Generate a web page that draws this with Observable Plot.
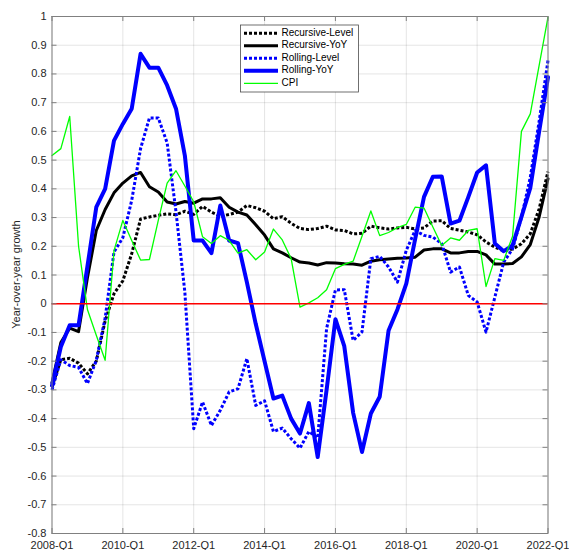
<!DOCTYPE html>
<html><head><meta charset="utf-8">
<script src="https://cdn.jsdelivr.net/npm/d3@7"></script>
<script src="https://cdn.jsdelivr.net/npm/@observablehq/plot@0.6"></script>
<style>
body{margin:0;background:#fff;}
#chart{position:relative;width:569px;height:550px;}
#chart svg{font-family:"Liberation Sans",Arial,Helvetica,sans-serif;}
</style></head><body><div id="chart"></div>
<script>
const quarters = [
"2008-Q1","2008-Q2","2008-Q3","2008-Q4","2009-Q1","2009-Q2","2009-Q3","2009-Q4",
"2010-Q1","2010-Q2","2010-Q3","2010-Q4","2011-Q1","2011-Q2","2011-Q3","2011-Q4",
"2012-Q1","2012-Q2","2012-Q3","2012-Q4","2013-Q1","2013-Q2","2013-Q3","2013-Q4",
"2014-Q1","2014-Q2","2014-Q3","2014-Q4","2015-Q1","2015-Q2","2015-Q3","2015-Q4",
"2016-Q1","2016-Q2","2016-Q3","2016-Q4","2017-Q1","2017-Q2","2017-Q3","2017-Q4",
"2018-Q1","2018-Q2","2018-Q3","2018-Q4","2019-Q1","2019-Q2","2019-Q3","2019-Q4",
"2020-Q1","2020-Q2","2020-Q3","2020-Q4","2021-Q1","2021-Q2","2021-Q3","2021-Q4",
"2022-Q1"];
const xTicks = ["2008-Q1","2010-Q1","2012-Q1","2014-Q1","2016-Q1","2018-Q1","2020-Q1","2022-Q1"];
const yTicks = [-0.8,-0.7,-0.6,-0.5,-0.4,-0.3,-0.2,-0.1,0,0.1,0.2,0.3,0.4,0.5,0.6,0.7,0.8,0.9,1];
const yLabel = "Year-over-year growth";

const recursiveLevel = [
-0.29,-0.195,-0.19,-0.207,-0.244,-0.2,-0.06,0.035,0.08,0.174,0.295,0.302,0.308,0.313,0.31,0.322,
0.311,0.339,0.319,0.304,0.311,0.319,0.342,0.334,0.322,0.296,0.303,0.28,0.262,0.258,0.262,0.27,
0.257,0.255,0.243,0.245,0.27,0.264,0.26,0.264,0.266,0.26,0.264,0.288,0.289,0.262,0.256,0.25,
0.24,0.215,0.197,0.184,0.19,0.209,0.244,0.33,0.46];
const recursiveYoY = [
-0.275,-0.135,-0.085,-0.097,0.09,0.255,0.328,0.386,0.42,0.445,0.457,0.407,0.389,0.354,0.347,0.356,
0.35,0.365,0.365,0.369,0.336,0.319,0.309,0.275,0.239,0.191,0.177,0.16,0.145,0.142,0.135,0.143,
0.142,0.139,0.138,0.134,0.148,0.153,0.156,0.158,0.159,0.162,0.187,0.191,0.191,0.177,0.177,0.182,
0.182,0.17,0.138,0.138,0.14,0.163,0.206,0.302,0.435];
const rollingLevel = [
-0.3,-0.195,-0.215,-0.222,-0.278,-0.197,-0.05,0.18,0.23,0.36,0.54,0.647,0.647,0.56,0.32,0.04,
-0.435,-0.342,-0.424,-0.371,-0.307,-0.296,-0.191,-0.354,-0.338,-0.445,-0.433,-0.47,-0.503,-0.445,-0.467,-0.087,
0.048,0.049,-0.128,-0.098,0.157,0.165,0.128,0.075,0.186,0.255,0.238,0.232,0.209,0.11,0.128,0.029,
0.006,-0.099,0.023,0.145,0.191,0.3,0.44,0.635,0.847];
const rollingYoY = [
-0.285,-0.15,-0.075,-0.075,0.13,0.336,0.40,0.568,0.626,0.679,0.87,0.822,0.822,0.76,0.679,0.516,
0.22,0.22,0.176,0.342,0.22,0.211,0.075,-0.07,-0.2,-0.33,-0.32,-0.40,-0.452,-0.346,-0.534,-0.3,
-0.054,-0.148,-0.38,-0.516,-0.382,-0.324,-0.093,-0.02,0.07,0.225,0.372,0.442,0.443,0.279,0.289,0.371,
0.457,0.482,0.21,0.183,0.203,0.302,0.403,0.6,0.789];
const cpi = [
0.516,0.54,0.652,0.2,-0.02,-0.11,-0.197,0.185,0.29,0.22,0.152,0.154,0.29,0.42,0.463,0.41,
0.355,0.233,0.21,0.237,0.22,0.176,0.188,0.153,0.18,0.26,0.222,0.157,-0.012,0.003,0.021,0.049,
0.122,0.137,0.148,0.235,0.323,0.237,0.248,0.265,0.276,0.336,0.333,0.267,0.203,0.229,0.221,0.255,
0.261,0.06,0.157,0.151,0.235,0.6,0.661,0.83,0.998];

const seriesNames = ["Recursive-Level","Recursive-YoY","Rolling-Level","Rolling-YoY","CPI"];
const seriesValues = [recursiveLevel, recursiveYoY, rollingLevel, rollingYoY, cpi];
const seriesStyle = [
  {stroke:"#000000", width:3, dash:"3,2"},
  {stroke:"#000000", width:3, dash:null},
  {stroke:"#0000ff", width:3, dash:"3,2"},
  {stroke:"#0000ff", width:4, dash:null},
  {stroke:"#00ff00", width:1.3, dash:null}
];

const W = 569, H = 550, mL = 51.5, mR = 21.5, mT = 16, mB = 17;
const pw = W - mL - mR, ph = H - mT - mB;
const axisColor = "#808080", textColor = "#262626";
const fmt = d => String(+d.toFixed(1));

const lineMarks = seriesNames.map((name, k) => {
  const data = quarters.map((q, i) => ({q, v: seriesValues[k][i]}));
  const st = seriesStyle[k];
  return Plot.line(data, {
    x: "q", y: "v", stroke: st.stroke, strokeWidth: st.width,
    strokeDasharray: st.dash || undefined,
    strokeLinecap: st.dash ? "butt" : "round",
    strokeLinejoin: "round"
  });
});

const chart = Plot.plot({
  width: W, height: H,
  marginLeft: mL, marginRight: mR, marginTop: mT, marginBottom: mB,
  style: {background: "#fff", fontSize: "11px"},
  x: {type: "point", domain: quarters, padding: 0},
  y: {domain: [-0.8, 1]},
  marks: [
    Plot.gridY(yTicks, {stroke: "#262626", strokeOpacity: 0.12}),
    Plot.gridX(xTicks, {stroke: "#262626", strokeOpacity: 0.12}),
    ...lineMarks,
    Plot.ruleY([0], {stroke: "#ff0000", strokeWidth: 1.4}),
    Plot.frame({stroke: axisColor, strokeWidth: 1}),
    Plot.tickY(yTicks, {y: d => d, insetRight: pw - 5, stroke: axisColor}),
    Plot.tickY(yTicks, {y: d => d, insetLeft: pw - 5, stroke: axisColor}),
    Plot.tickX(xTicks, {x: d => d, insetTop: ph - 5, stroke: axisColor}),
    Plot.tickX(xTicks, {x: d => d, insetBottom: ph - 5, stroke: axisColor}),
    Plot.axisY(yTicks, {tickSize: 0, tickPadding: 5.5, tickFormat: fmt, fill: textColor, fontSize: 11, label: null}),
    Plot.axisX(xTicks, {tickSize: 0, tickPadding: 7.5, fill: textColor, fontSize: 11, label: null})
  ]
});
document.getElementById("chart").appendChild(chart);

const svg = d3.select(chart);
svg.append("text")
  .attr("transform", `translate(17,${mT + ph / 2}) rotate(-90)`)
  .attr("text-anchor", "middle")
  .attr("dominant-baseline", "middle")
  .attr("fill", textColor)
  .style("font-size", "11px")
  .text(yLabel);

const lg = svg.append("g").attr("text-anchor", "start");
lg.append("rect").attr("x", 240.5).attr("y", 25).attr("width", 118).attr("height", 67)
  .attr("fill", "#fff").attr("stroke", "#4d4d4d").attr("stroke-width", 0.8);
seriesNames.forEach((name, k) => {
  const st = seriesStyle[k];
  const yy = 33.3 + k * 12.5;
  lg.append("line").attr("x1", 244).attr("x2", 278).attr("y1", yy).attr("y2", yy)
    .attr("stroke", st.stroke).attr("stroke-width", st.width)
    .attr("stroke-dasharray", st.dash)
    .attr("stroke-linecap", "butt");
  lg.append("text").attr("x", 281.5).attr("y", yy).attr("dominant-baseline", "middle")
    .attr("text-anchor", "start")
    .attr("fill", "#000").style("font-size", "10px").text(name);
});
</script></body></html>
